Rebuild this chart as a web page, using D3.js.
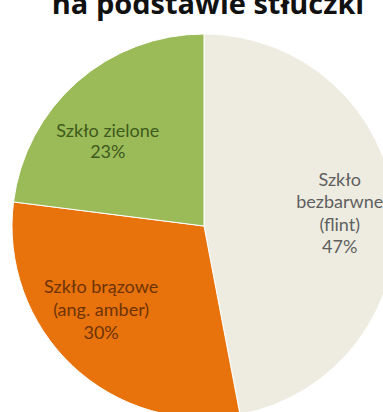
<!DOCTYPE html>
<html>
<head>
<meta charset="utf-8">
<script src="https://cdn.jsdelivr.net/npm/d3@7"></script>
<style>
  html, body { margin: 0; padding: 0; background: #ffffff; }
  svg { display: block; }
</style>
</head>
<body>
<svg id="chart" width="383" height="412"></svg>
<script>
// Glass cullet composition
const categories = ["Szkło bezbarwne (flint)", "Szkło brązowe (ang. amber)", "Szkło zielone"];
const shares = [47, 30, 23];
const sliceColors = ["#eeece1", "#e8720c", "#9bbb59"];
const labelColors = ["#5f5f5f", "#6e3406", "#3e5a1c"];
const labelLines = [
  ["Szkło", "bezbarwne", "(flint)", "47%"],
  ["Szkło brązowe", "(ang. amber)", "30%"],
  ["Szkło zielone", "23%"]
];
const titleText = "na podstawie stłuczki";

const svg = d3.select("#chart");
const cx = 204, cy = 226, radius = 192;

svg.append("text")
  .attr("x", 208)
  .attr("y", 14)
  .attr("text-anchor", "middle")
  .attr("font-family", "'Open Sans', sans-serif")
  .attr("font-weight", 700)
  .attr("font-size", 29)
  .attr("fill", "#111111")
  .text(titleText);

const pie = d3.pie().sort(null).value(d => d);
const arcs = pie(shares);
const arc = d3.arc().innerRadius(0).outerRadius(radius);

const g = svg.append("g").attr("transform", `translate(${cx},${cy})`);

g.selectAll("path.slice")
  .data(arcs)
  .join("path")
  .attr("class", "slice")
  .attr("d", arc)
  .attr("fill", (d, i) => sliceColors[i])
  .attr("stroke", "#ffffff")
  .attr("stroke-width", 1);

// label anchors: point on the slice bisector, then a small horizontal nudge
const labelRadius = [0.71, 0.6, 0.6];
const labelNudge = [[0, 0], [-24, 0], [-20, 2]];
const lineHeights = [22.5, 23, 21];

arcs.forEach((d, i) => {
  const mid = (d.startAngle + d.endAngle) / 2;
  const r = radius * labelRadius[i];
  const x = r * Math.sin(mid) + labelNudge[i][0];
  const y = -r * Math.cos(mid) + labelNudge[i][1];
  const lines = labelLines[i];
  const lh = lineHeights[i];
  const t = g.append("text")
    .attr("text-anchor", "middle")
    .attr("font-family", "Lato, sans-serif")
    .attr("font-size", 18)
    .attr("fill", labelColors[i]);
  lines.forEach((s, k) => {
    t.append("tspan")
      .attr("x", x)
      .attr("y", y + (k - (lines.length - 1) / 2) * lh)
      .attr("dy", "0.35em")
      .text(s);
  });
});
</script>
</body>
</html>
